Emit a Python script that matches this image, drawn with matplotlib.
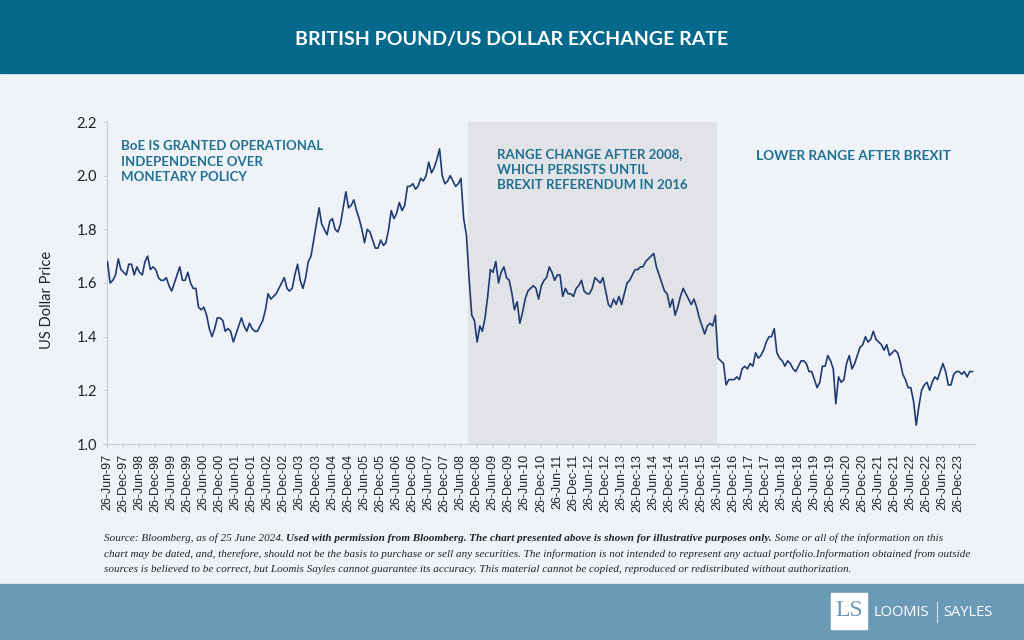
import matplotlib
matplotlib.use('Agg')
import matplotlib.pyplot as plt
import pandas as pd

# GBP/USD, valori mensili
gbp_1997 = [1.67, 1.68, 1.60, 1.61, 1.63, 1.69, 1.65]
gbp_1998 = [1.64, 1.63, 1.67, 1.67, 1.63, 1.66, 1.64, 1.63, 1.68, 1.70, 1.65, 1.66]
gbp_1999 = [1.65, 1.62, 1.61, 1.61, 1.62, 1.59, 1.57, 1.60, 1.63, 1.66, 1.61, 1.61]
gbp_2000 = [1.64, 1.60, 1.58, 1.58, 1.51, 1.50, 1.51, 1.48, 1.43, 1.40, 1.43, 1.47]
gbp_2001 = [1.47, 1.46, 1.42, 1.43, 1.42, 1.38, 1.41, 1.44, 1.47, 1.44, 1.42, 1.45]
gbp_2002 = [1.43, 1.42, 1.42, 1.44, 1.46, 1.50, 1.56, 1.54, 1.55, 1.56, 1.58, 1.60]
gbp_2003 = [1.62, 1.58, 1.57, 1.58, 1.63, 1.67, 1.61, 1.58, 1.62, 1.68, 1.70, 1.76]
gbp_2004 = [1.82, 1.88, 1.82, 1.80, 1.78, 1.83, 1.84, 1.80, 1.79, 1.82, 1.88, 1.94]
gbp_2005 = [1.88, 1.89, 1.91, 1.87, 1.84, 1.80, 1.75, 1.80, 1.79, 1.76, 1.73, 1.73]
gbp_2006 = [1.76, 1.74, 1.75, 1.80, 1.87, 1.84, 1.86, 1.90, 1.87, 1.89, 1.96, 1.96]
gbp_2007 = [1.97, 1.95, 1.96, 1.99, 1.98, 2.00, 2.05, 2.01, 2.03, 2.06, 2.10, 2.00]
gbp_2008 = [1.97, 1.98, 2.00, 1.98, 1.96, 1.97, 1.99, 1.84, 1.78, 1.62, 1.48, 1.46]
gbp_2009 = [1.38, 1.44, 1.42, 1.47, 1.55, 1.65, 1.64, 1.68, 1.60, 1.64, 1.66, 1.62]
gbp_2010 = [1.61, 1.56, 1.50, 1.53, 1.45, 1.49, 1.54, 1.57, 1.58, 1.59, 1.58, 1.54]
gbp_2011 = [1.59, 1.61, 1.62, 1.66, 1.64, 1.61, 1.63, 1.63, 1.55, 1.58, 1.56, 1.56]
gbp_2012 = [1.55, 1.58, 1.59, 1.61, 1.57, 1.56, 1.56, 1.58, 1.62, 1.61, 1.60, 1.62]
gbp_2013 = [1.57, 1.52, 1.51, 1.54, 1.52, 1.55, 1.52, 1.56, 1.60, 1.61, 1.63, 1.65]
gbp_2014 = [1.65, 1.66, 1.66, 1.68, 1.69, 1.70, 1.71, 1.66, 1.63, 1.60, 1.57, 1.56]
gbp_2015 = [1.51, 1.54, 1.48, 1.51, 1.55, 1.58, 1.56, 1.54, 1.52, 1.54, 1.51, 1.47]
gbp_2016 = [1.44, 1.41, 1.44, 1.45, 1.44, 1.48, 1.32, 1.31, 1.30, 1.22, 1.24, 1.24]
gbp_2017 = [1.24, 1.25, 1.24, 1.28, 1.29, 1.28, 1.30, 1.29, 1.34, 1.32, 1.33, 1.35]
gbp_2018 = [1.38, 1.40, 1.40, 1.43, 1.34, 1.32, 1.31, 1.29, 1.31, 1.30, 1.28, 1.27]
gbp_2019 = [1.29, 1.31, 1.31, 1.30, 1.27, 1.27, 1.24, 1.21, 1.23, 1.29, 1.29, 1.33]
gbp_2020 = [1.31, 1.28, 1.15, 1.25, 1.23, 1.24, 1.30, 1.33, 1.28, 1.30, 1.33, 1.36]
gbp_2021 = [1.37, 1.40, 1.38, 1.39, 1.42, 1.39, 1.38, 1.37, 1.35, 1.37, 1.33, 1.34]
gbp_2022 = [1.35, 1.34, 1.31, 1.26, 1.24, 1.21, 1.21, 1.16, 1.07, 1.14, 1.20, 1.22]
gbp_2023 = [1.23, 1.20, 1.23, 1.25, 1.24, 1.27, 1.30, 1.27, 1.22, 1.22, 1.26, 1.27]
gbp_2024 = [1.27, 1.26, 1.27, 1.25, 1.27, 1.27]

prezzi = (gbp_1997 + gbp_1998 + gbp_1999 + gbp_2000 + gbp_2001 + gbp_2002 + gbp_2003
          + gbp_2004 + gbp_2005 + gbp_2006 + gbp_2007 + gbp_2008 + gbp_2009 + gbp_2010
          + gbp_2011 + gbp_2012 + gbp_2013 + gbp_2014 + gbp_2015 + gbp_2016 + gbp_2017
          + gbp_2018 + gbp_2019 + gbp_2020 + gbp_2021 + gbp_2022 + gbp_2023 + gbp_2024)
date = pd.date_range('1997-06-01', '2024-06-01', freq='MS')

inizio_range = pd.Timestamp('2008-09-15')
fine_range = pd.Timestamp('2016-06-24')
y_ticks = [1.0, 1.2, 1.4, 1.6, 1.8, 2.0, 2.2]

sfondo = '#eff3f8'
blu_testata = '#05698b'
blu_piede = '#6b9ab7'
teal = '#1f7092'
linea = '#1f3b73'

W, H = 1024, 640
def fx(px):
    return px / W
def fy(py):
    return 1 - py / H

fig = plt.figure(figsize=(10.24, 6.4), dpi=100)
fig.patch.set_facecolor(sfondo)

# testata e piede
fig.patches.append(plt.Rectangle((0, fy(73)), 1, 73 / H, transform=fig.transFigure,
                                 color=blu_testata, zorder=0))
fig.patches.append(plt.Rectangle((0, 0), 1, 56 / H, transform=fig.transFigure,
                                 color=blu_piede, zorder=0))
fig.text(0.5, fy(40), 'BRITISH POUND/US DOLLAR EXCHANGE RATE', color='white',
         fontsize=14, fontweight='bold', family='Lato', ha='center', va='center')

ax = fig.add_axes([fx(107), fy(444), fx(975) - fx(107), (444 - 122) / H])
ax.set_facecolor(sfondo)
ax.axvspan(inizio_range, fine_range, color='#e1e3e7', lw=0, zorder=0)
ax.plot(date, prezzi, color=linea, lw=1.2, zorder=3)

ax.set_xlim(pd.Timestamp('1997-06-26'), pd.Timestamp('2024-06-30'))
ax.set_ylim(1.0, 2.2)
ax.set_yticks(y_ticks)
ax.set_yticklabels(['%.1f' % v for v in y_ticks], family='Lato', fontsize=10.5, color='#222222')
tick_date = pd.date_range('1997-06-01', '2023-12-01', freq='6MS') + pd.Timedelta(days=25)
ax.set_xticks(tick_date)
ax.set_xticklabels([d.strftime('%d-%b-%y') for d in tick_date], rotation=90,
                   family='Liberation Sans', fontsize=9, color='#222222')
ax.tick_params(axis='both', length=3, color='#c8ccd4', pad=4)
for s in ['top', 'right']:
    ax.spines[s].set_visible(False)
for s in ['left', 'bottom']:
    ax.spines[s].set_color('#c8ccd4')
    ax.spines[s].set_linewidth(0.8)

fig.text(fx(47), fy(300), 'US Dollar Price', rotation=90, family='Lato', fontsize=10.5,
         color='#222222', ha='center', va='center')

# annotazioni
fig.text(fx(121), fy(140), 'BoE IS GRANTED OPERATIONAL\nINDEPENDENCE OVER\nMONETARY POLICY',
         color=teal, family='Lato', fontweight='bold', fontsize=9.5, va='top', ha='left',
         linespacing=1.35)
fig.text(fx(497), fy(148), 'RANGE CHANGE AFTER 2008,\nWHICH PERSISTS UNTIL\nBREXIT REFERENDUM IN 2016',
         color=teal, family='Lato', fontweight='bold', fontsize=9.5, va='top', ha='left',
         linespacing=1.35)
fig.text(fx(756), fy(156), 'LOWER RANGE AFTER BREXIT',
         color=teal, family='Lato', fontweight='bold', fontsize=9.8, va='center', ha='left')

# nota a pie di pagina
nota = dict(family='Liberation Serif', style='italic', fontsize=8.05, color='#222222')
t1 = fig.text(fx(104), fy(541), 'Source: Bloomberg, as of 25 June 2024. ', va='baseline', **nota)
t2 = fig.text(0, fy(541), 'Used with permission from Bloomberg. The chart presented above is shown for illustrative purposes only.',
              fontweight='bold', va='baseline', **nota)
fig.canvas.draw()
r = fig.canvas.get_renderer()
bb = t1.get_window_extent(r)
t2.set_position((bb.x1 / W, fy(541)))
bb2 = t2.get_window_extent(r)
fig.text(bb2.x1 / W, fy(541), ' Some or all of the information on this', va='baseline', **nota)
fig.text(fx(104), fy(557), 'chart may be dated, and, therefore, should not be the basis to purchase or sell any securities. The information is not intended to represent any actual portfolio.Information obtained from outside',
         va='baseline', **nota)
fig.text(fx(104), fy(572), 'sources is believed to be correct, but Loomis Sayles cannot guarantee its accuracy. This material cannot be copied, reproduced or redistributed without authorization.',
         va='baseline', **nota)

# logo
fig.patches.append(plt.Rectangle((fx(831), fy(629)), 36 / W, 36 / H, transform=fig.transFigure,
                                 color='white', zorder=1))
fig.text(fx(849), fy(611), 'LS', color=blu_piede, family='Liberation Serif', fontsize=17,
         ha='center', va='center', zorder=2)
fig.text(fx(874), fy(612), 'LOOMIS', color='white', family='Open Sans', fontsize=10.5,
         ha='left', va='center')
fig.text(fx(993), fy(612), 'SAYLES', color='white', family='Open Sans', fontsize=10.5,
         ha='right', va='center')
fig.lines.append(plt.Line2D([fx(937), fx(937)], [fy(602), fy(622)], transform=fig.transFigure,
                            color='#d5e3ec', lw=0.8))

fig.savefig('out.png', dpi=100, facecolor=fig.get_facecolor())
